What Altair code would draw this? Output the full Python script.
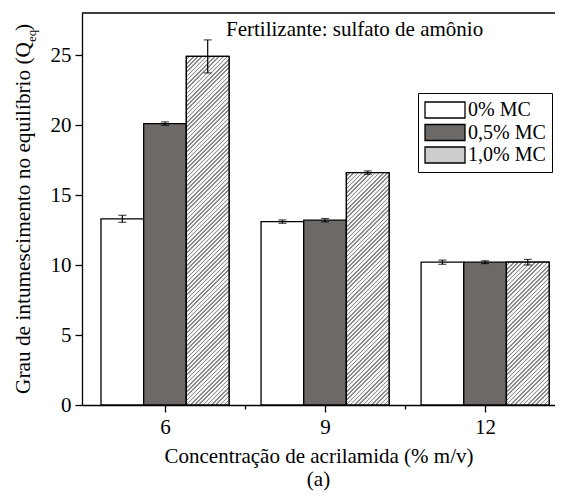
import altair as alt
import pandas as pd

concs = [6, 9, 12]
series = ["0% MC", "0,5% MC", "1,0% MC"]
q_0 = [13.3, 13.1, 10.2]
q_05 = [20.1, 13.2, 10.2]
q_10 = [24.9, 16.6, 10.2]
e_0 = [0.25, 0.12, 0.15]
e_05 = [0.12, 0.12, 0.1]
e_10 = [1.18, 0.12, 0.2]

rows = []
for si, (name, qs, es) in enumerate(zip(series, [q_0, q_05, q_10], [e_0, e_05, e_10])):
    for c, q, e in zip(concs, qs, es):
        rows.append({"conc": c, "serie": name, "idx": si, "q": q, "lo": q - e, "hi": q + e})
df = pd.DataFrame(rows)

FONT = "Liberation Serif"
W, H = 473, 392
XMIN, XMAX = 4.444, 13.31
YMAX = 28
xscale = alt.Scale(domain=[XMIN, XMAX], nice=False, zero=False)
yscale = alt.Scale(domain=[0, YMAX], nice=False)

base = alt.Chart(df).transform_calculate(
    xc="datum.conc + (datum.idx - 1) * 0.8",
    x0="datum.conc + (datum.idx - 1) * 0.8 - 0.4",
    x1="datum.conc + (datum.idx - 1) * 0.8 + 0.4",
)

bars = base.mark_bar(stroke="black", strokeWidth=1.3).encode(
    x=alt.X("x0:Q", scale=xscale, axis=alt.Axis(
        values=[6, 7.5, 9, 10.5, 12],
        labelExpr="datum.value % 1 === 0 ? datum.label : ''",
        title="Concentração de acrilamida (% m/v)",
        tickSize={"condition": {"test": "datum.value % 1 === 0", "value": 7}, "value": 4},
        grid=False,
    )),
    x2="x1:Q",
    y=alt.Y("q:Q", scale=yscale, axis=alt.Axis(
        values=[0, 2.5, 5, 7.5, 10, 12.5, 15, 17.5, 20, 22.5, 25, 27.5],
        labelExpr="datum.value % 5 === 0 ? datum.label : ''",
        tickSize={"condition": {"test": "datum.value % 5 === 0", "value": 7}, "value": 4},
        title=None,
        grid=False,
    )),
    y2=alt.datum(0),
    fill=alt.Fill("serie:N", scale=alt.Scale(domain=series, range=["#ffffff", "#6d6966", "#cdcdcd"]),
                  legend=alt.Legend(
                      title=None, orient="none", legendX=336, legendY=80,
                      symbolType="M-2,-0.8H2V0.8H-2Z", symbolSize=400, symbolOffset=10,
                      symbolStrokeColor="black", symbolStrokeWidth=1.3,
                      labelFont=FONT, labelFontSize=20, labelColor="black",
                      strokeColor="black", fillColor="white", padding=6,
                      rowPadding=0.5, labelOffset=12, cornerRadius=0,
                  )),
)


def hatch(q):
    # diagonal hatching emulated with a striped linear gradient in bounding-box units
    w = 0.8 * W / (XMAX - XMIN)
    h = q * H / YMAX
    r = h / w
    k = (1 + r) / (1 + r * r)
    n = max(1, round((w + h) / 4.2))
    stops = []
    for i in range(n):
        a = i / n
        b = (i + 0.62) / n
        c = (i + 1) / n
        stops += [
            {"offset": a, "color": "#f4f4f4"},
            {"offset": b, "color": "#f4f4f4"},
            {"offset": b, "color": "#8a8a8a"},
            {"offset": c, "color": "#8a8a8a"},
        ]
    return {"gradient": "linear", "x1": 0, "y1": 0, "x2": k, "y2": k * r, "stops": stops}


hatch_layers = []
for c, q in zip(concs, q_10):
    hatch_layers.append(
        base.transform_filter(f"datum.serie == '{series[2]}' && datum.conc == {c}")
        .mark_bar(stroke="black", strokeWidth=1.3, fill=hatch(q))
        .encode(x=alt.X("x0:Q", scale=xscale), x2="x1:Q", y=alt.Y("q:Q", scale=yscale), y2=alt.datum(0))
    )

frame_top = alt.Chart().mark_rule(color="black", strokeWidth=1.3).encode(
    x=alt.value(0), x2=alt.value(W), y=alt.value(0)
)

err = base.mark_errorbar(ticks={"size": 8}, color="black", thickness=1.2).encode(
    x=alt.X("xc:Q", scale=xscale),
    y=alt.Y("lo:Q", scale=yscale, title=None),
    y2="hi:Q",
)

inner_title = alt.Chart().mark_text(
    text="Fertilizante: sulfato de amônio", font=FONT, fontSize=21, align="left", baseline="middle", color="black"
).encode(x=alt.value(144), y=alt.value(17))

ytitle = alt.Chart().mark_text(
    text="Grau de intumescimento no equilíbrio (Q", font=FONT, fontSize=21.3, align="right",
    baseline="middle", angle=270, color="black"
).encode(x=alt.value(-58), y=alt.value(29))
ysub = alt.Chart().mark_text(
    text="eq", font=FONT, fontSize=13, align="left", baseline="middle", angle=270, color="black"
).encode(x=alt.value(-50), y=alt.value(29))
yparen = alt.Chart().mark_text(
    text=")", font=FONT, fontSize=21.3, align="left", baseline="middle", angle=270, color="black"
).encode(x=alt.value(-58), y=alt.value(18))

chart = alt.layer(bars, *hatch_layers, frame_top, err, inner_title, ytitle, ysub, yparen).properties(
    width=W, height=H,
    title=alt.TitleParams("(a)", orient="bottom", font=FONT, fontSize=21, fontWeight="normal", color="black", offset=3),
    autosize=alt.AutoSizeParams(type="none"),
    padding={"left": 74, "top": 5, "right": 0, "bottom": 90},
).configure_view(stroke=None).configure_axis(
    domainColor="black", domainWidth=1.3, tickColor="black", tickWidth=1.3,
    labelFont=FONT, labelFontSize=21, labelColor="black", labelPadding=4,
    titleFont=FONT, titleFontSize=21, titleFontWeight="normal", titleColor="black", titlePadding=8,
).configure_axisX(labelAngle=0)

chart.save("out.html", embed_options={"renderer": "svg", "actions": False})
